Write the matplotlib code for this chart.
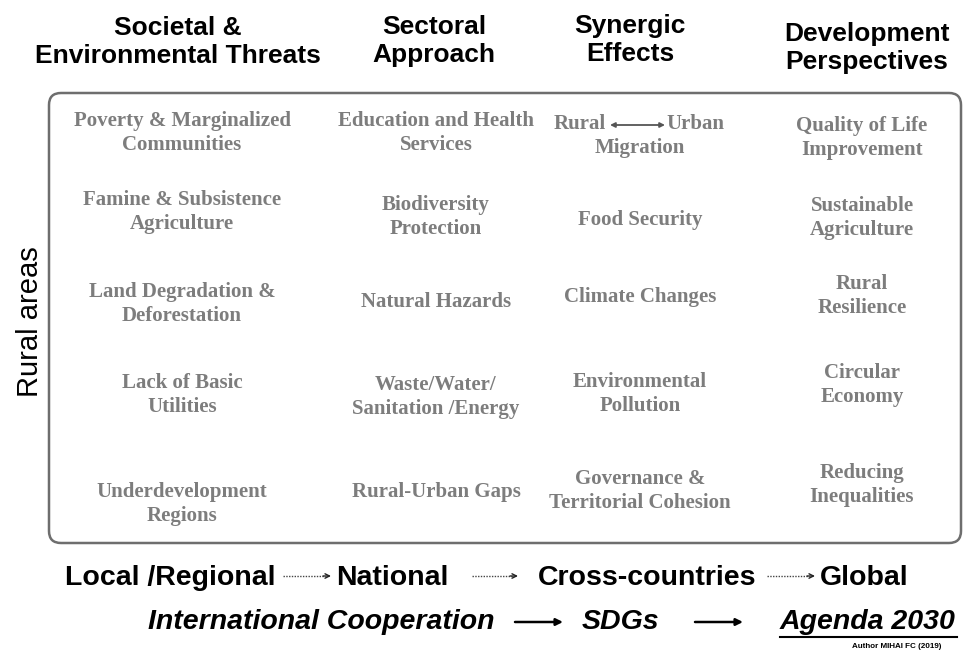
import matplotlib.pyplot as plt
from matplotlib.patches import FancyBboxPatch

headers = ["Societal &\nEnvironmental Threats", "Sectoral\nApproach",
           "Synergic\nEffects", "Development\nPerspectives"]

threats = ["Poverty & Marginalized\nCommunities", "Famine & Subsistence\nAgriculture",
           "Land Degradation &\nDeforestation", "Lack of Basic\nUtilities",
           "Underdevelopment\nRegions"]
sectoral = ["Education and Health\nServices", "Biodiversity\nProtection",
            "Natural Hazards", "Waste/Water/\nSanitation /Energy", "Rural-Urban Gaps"]
synergic = ["Migration", "Food Security", "Climate Changes",
            "Environmental\nPollution", "Governance &\nTerritorial Cohesion"]
perspectives = ["Quality of Life\nImprovement", "Sustainable\nAgriculture",
                "Rural\nResilience", "Circular\nEconomy", "Reducing\nInequalities"]
columns = [threats, sectoral, synergic, perspectives]
migration_ends = ["Rural", "Urban"]

scale_row = ["Local /Regional", "National", "Cross-countries", "Global"]
coop_row = ["International Cooperation", "SDGs", "Agenda 2030"]

# layout (pixels)
head_x = [178, 434, 630, 867]
head_y = [42, 41, 40, 48]
col_x = [182, 436, 640, 862]
cell_y = [[133, 212, 304, 395, 504],
          [133, 217, 302, 397, 492],
          [148, 220, 297, 394, 491],
          [138, 218, 296, 385, 485]]
scale_x = [65, 336, 538, 820]
scale_arrows = [(283, 331), (472, 518), (767, 815)]
coop_x = [148, 582, 780]
coop_arrows = [(515, 563), (695, 743)]

fig = plt.figure(figsize=(9.63, 6.6), dpi=100)
ax = fig.add_axes([0, 0, 1, 1])
ax.set_xlim(0, 963)
ax.set_ylim(660, 0)
ax.axis("off")

sans = "Liberation Sans"
serif = "Liberation Serif"
grey = "#7d7d7d"

box = FancyBboxPatch((49, 93), 912, 450, boxstyle="round,pad=0,rounding_size=12",
                     fc="white", ec="#6e6e6e", lw=1.8)
ax.add_patch(box)

for x, y, h in zip(head_x, head_y, headers):
    ax.text(x, y, h, ha="center", va="center", family=sans, weight="bold",
            fontsize=19, linespacing=1.2)

for x, ys, col in zip(col_x, cell_y, columns):
    for y, t in zip(ys, col):
        ax.text(x, y, t, ha="center", va="center", family=serif, weight="bold",
                fontsize=15, color=grey, linespacing=1.25)

# Rural <-> Urban
ax.text(554, 124, migration_ends[0], ha="left", va="center", family=serif,
        weight="bold", fontsize=15, color=grey)
ax.text(724, 124, migration_ends[1], ha="right", va="center", family=serif,
        weight="bold", fontsize=15, color=grey)
ax.annotate("", xy=(665, 125), xytext=(610, 125),
            arrowprops=dict(arrowstyle="<|-|>", color="#555555", lw=1.3,
                            mutation_scale=7, shrinkA=0, shrinkB=0))

ax.text(30, 322, "Rural areas", rotation=90, ha="center", va="center",
        family=sans, fontsize=21)

for x, t in zip(scale_x, scale_row):
    ax.text(x, 578, t, ha="left", va="center", family=sans, weight="bold", fontsize=20.5)
for x0, x1 in scale_arrows:
    ax.plot([x0, x1 - 6], [576, 576], color="#444444", lw=1, ls=(0, (1, 1)))
    ax.annotate("", xy=(x1, 576), xytext=(x1 - 8, 576),
                arrowprops=dict(arrowstyle="->", color="#222222", lw=1,
                                mutation_scale=8, shrinkA=0, shrinkB=0))

for x, t in zip(coop_x, coop_row):
    ax.text(x, 622, t, ha="left", va="center", family=sans, weight="bold",
            style="italic", fontsize=20.5)
ax.plot([780, 957], [637, 637], color="black", lw=1.5)
for x0, x1 in coop_arrows:
    ax.annotate("", xy=(x1, 622), xytext=(x0, 622),
                arrowprops=dict(arrowstyle="-|>", color="black", lw=1.8,
                                mutation_scale=10, shrinkA=0, shrinkB=0))

ax.text(941, 647, "Author MIHAI FC (2019)", ha="right", va="center",
        family=sans, weight="bold", fontsize=5.8)

fig.savefig("out.png", dpi=100)
